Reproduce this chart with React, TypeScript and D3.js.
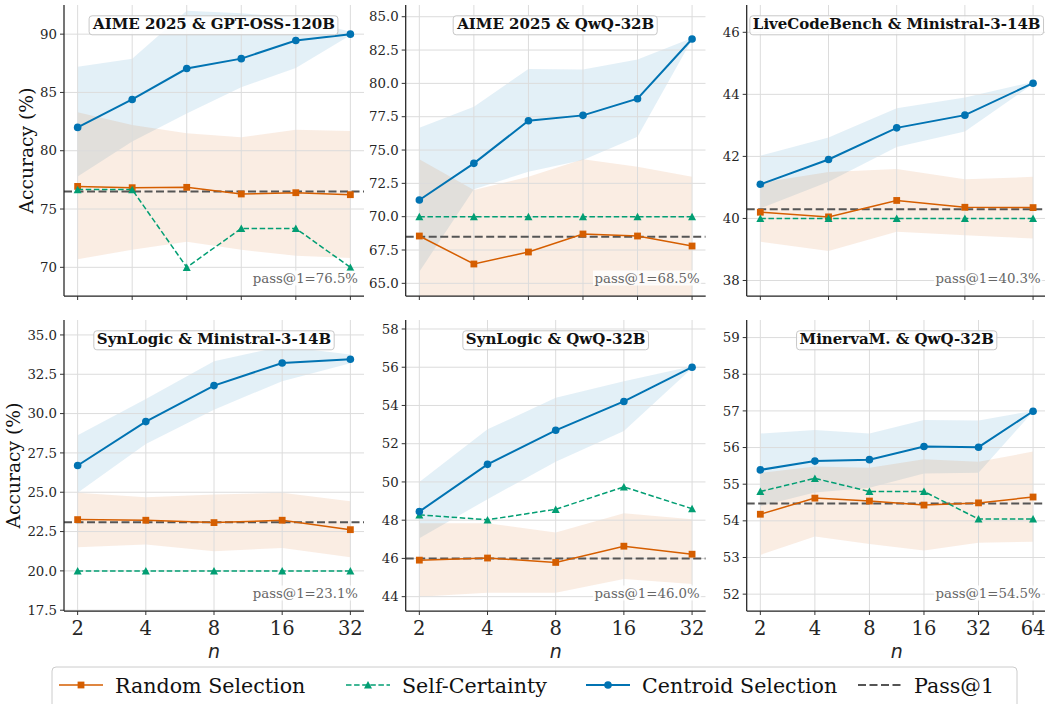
import { useEffect, useRef } from 'react'
import * as d3 from 'd3'

const nSix = ['2', '4', '8', '16', '32', '64']
const nFive = ['2', '4', '8', '16', '32']

// AIME 2025 & GPT-OSS-120B
const aimeGptCentroid = [82.0, 84.4, 87.05, 87.9, 89.45, 90.0]
const aimeGptCentroidHi = [87.2, 87.9, 92.0, 91.8, 91.4, 90.2]
const aimeGptCentroidLo = [77.8, 80.8, 83.2, 85.45, 87.1, 89.9]
const aimeGptRandom = [76.94, 76.83, 76.86, 76.29, 76.4, 76.23]
const aimeGptRandomHi = [83.3, 82.2, 81.5, 81.15, 81.8, 81.7]
const aimeGptRandomLo = [70.7, 71.5, 72.2, 71.5, 71.0, 70.8]
const aimeGptSelf = [76.67, 76.67, 70.0, 73.33, 73.33, 70.0]

// AIME 2025 & QwQ-32B
const aimeQwqCentroid = [71.25, 74.0, 77.2, 77.6, 78.85, 83.33]
const aimeQwqCentroidHi = [76.67, 78.25, 81.08, 81.05, 81.8, 83.4]
const aimeQwqCentroidLo = [65.87, 72.05, 73.37, 74.25, 76.0, 83.3]
const aimeQwqRandom = [68.55, 66.45, 67.35, 68.7, 68.55, 67.8]
const aimeQwqRandomHi = [74.3, 72.0, 73.0, 74.3, 73.75, 73.0]
const aimeQwqRandomLo = [62.8, 61.0, 61.7, 63.1, 63.3, 62.6]
const aimeQwqSelf = [70, 70, 70, 70, 70, 70]

// LiveCodeBench & Ministral-3-14B
const lcbCentroid = [41.1, 41.9, 42.92, 43.33, 44.36]
const lcbCentroidHi = [42.02, 42.61, 43.55, 43.9, 44.4]
const lcbCentroidLo = [40.32, 41.18, 42.3, 42.8, 44.33]
const lcbRandom = [40.2, 40.05, 40.58, 40.36, 40.35]
const lcbRandomHi = [41.15, 41.5, 41.59, 41.26, 41.34]
const lcbRandomLo = [39.25, 38.95, 39.57, 39.46, 39.35]
const lcbSelf = [40, 40, 40, 40, 40]

// SynLogic & Ministral-3-14B
const synMinCentroid = [26.7, 29.49, 31.78, 33.22, 33.45]
const synMinCentroidHi = [28.62, 30.93, 33.33, 34.28, 33.75]
const synMinCentroidLo = [24.96, 28.07, 30.25, 32.06, 33.2]
const synMinRandom = [23.26, 23.22, 23.07, 23.22, 22.62]
const synMinRandomHi = [24.96, 24.68, 24.85, 24.96, 24.43]
const synMinRandomLo = [21.5, 21.67, 21.25, 21.46, 20.87]
const synMinSelf = [20, 20, 20, 20, 20]

// SynLogic & QwQ-32B
const synQwqCentroid = [48.45, 50.92, 52.7, 54.21, 56.0]
const synQwqCentroidHi = [50.0, 52.75, 54.4, 55.27, 56.05]
const synQwqCentroidLo = [47.05, 49.1, 51.05, 52.66, 55.95]
const synQwqRandom = [45.91, 46.02, 45.79, 46.64, 46.22]
const synQwqRandomHi = [47.84, 47.84, 47.36, 48.36, 48.05]
const synQwqRandomLo = [44.0, 44.2, 44.2, 44.92, 44.66]
const synQwqSelf = [48.28, 48.02, 48.57, 49.74, 48.6]

// MinervaM. & QwQ-32B
const minervaCentroid = [55.39, 55.63, 55.67, 56.03, 56.01, 56.99]
const minervaCentroidHi = [56.38, 56.48, 56.38, 56.75, 56.74, 57.0]
const minervaCentroidLo = [54.4, 54.77, 54.9, 55.29, 55.31, 56.98]
const minervaRandom = [54.18, 54.62, 54.54, 54.43, 54.49, 54.65]
const minervaRandomHi = [55.31, 55.48, 55.45, 55.68, 55.61, 55.89]
const minervaRandomLo = [53.07, 53.57, 53.37, 53.19, 53.4, 53.43]
const minervaSelf = [54.8, 55.16, 54.8, 54.8, 54.05, 54.05]

const passValues = [76.5, 68.5, 40.3, 23.1, 46.0, 54.47]
const passLabels = ['76.5%', '68.5%', '40.3%', '23.1%', '46.0%', '54.5%']

const aimeGptTicks = [70, 75, 80, 85, 90]
const aimeQwqTicks = [65, 67.5, 70, 72.5, 75, 77.5, 80, 82.5, 85]
const lcbTicks = [38, 40, 42, 44, 46]
const synMinTicks = [17.5, 20, 22.5, 25, 27.5, 30, 32.5, 35]
const synQwqTicks = [44, 46, 48, 50, 52, 54, 56, 58]
const minervaTicks = [52, 53, 54, 55, 56, 57, 58, 59]

const legendLabels = ['Random Selection', 'Self-Certainty', 'Centroid Selection', 'Pass@1']

const BLUE = '#0173B2'
const ORANGE = '#D55E00'
const GREEN = '#029E73'
const GREY = '#555555'

const panels = [
  { title: 'AIME 2025 & GPT-OSS-120B', n: nSix, c: aimeGptCentroid, cHi: aimeGptCentroidHi, cLo: aimeGptCentroidLo, r: aimeGptRandom, rHi: aimeGptRandomHi, rLo: aimeGptRandomLo, s: aimeGptSelf, ticks: aimeGptTicks, dom: [67.54, 92.5], fmt: d3.format('d') },
  { title: 'AIME 2025 & QwQ-32B', n: nSix, c: aimeQwqCentroid, cHi: aimeQwqCentroidHi, cLo: aimeQwqCentroidLo, r: aimeQwqRandom, rHi: aimeQwqRandomHi, rLo: aimeQwqRandomLo, s: aimeQwqSelf, ticks: aimeQwqTicks, dom: [64.05, 85.88], fmt: d3.format('.1f') },
  { title: 'LiveCodeBench & Ministral-3-14B', n: nFive, c: lcbCentroid, cHi: lcbCentroidHi, cLo: lcbCentroidLo, r: lcbRandom, rHi: lcbRandomHi, rLo: lcbRandomLo, s: lcbSelf, ticks: lcbTicks, dom: [37.5, 46.88], fmt: d3.format('d') },
  { title: 'SynLogic & Ministral-3-14B', n: nFive, c: synMinCentroid, cHi: synMinCentroidHi, cLo: synMinCentroidLo, r: synMinRandom, rHi: synMinRandomHi, rLo: synMinRandomLo, s: synMinSelf, ticks: synMinTicks, dom: [17.45, 35.95], fmt: d3.format('.1f') },
  { title: 'SynLogic & QwQ-32B', n: nFive, c: synQwqCentroid, cHi: synQwqCentroidHi, cLo: synQwqCentroidLo, r: synQwqRandom, rHi: synQwqRandomHi, rLo: synQwqRandomLo, s: synQwqSelf, ticks: synQwqTicks, dom: [43.25, 58.47], fmt: d3.format('d') },
  { title: 'MinervaM. & QwQ-32B', n: nSix, c: minervaCentroid, cHi: minervaCentroidHi, cLo: minervaCentroidLo, r: minervaRandom, rHi: minervaRandomHi, rLo: minervaRandomLo, s: minervaSelf, ticks: minervaTicks, dom: [51.54, 59.48], fmt: d3.format('d') },
]

const SERIF = 'DejaVu Serif, serif'

export default function App() {
  const ref = useRef<SVGSVGElement>(null)

  useEffect(() => {
    if (!ref.current) return
    const svg = d3.select(ref.current)
    svg.selectAll('*').remove()

    const colLeft = [64, 405.7, 746.7]
    const rowTop = [5, 320]
    const ylabelX = [33, 20]
    const pw = 300
    const ph = 291

    const triangle = 'M0,-3.9L4,3.6L-4,3.6Z'

    panels.forEach((p, i) => {
      const col = i % 3
      const row = Math.floor(i / 3)
      const g = svg.append('g').attr('transform', `translate(${colLeft[col]},${rowTop[row]})`)

      const x = d3.scalePoint<string>().domain(p.n).range([0, pw]).padding(0.05 * (p.n.length - 1))
      const y = d3.scaleLinear().domain(p.dom).range([ph, 0])
      const idx = p.n.map((_, k) => k)
      const xi = (k: number) => x(p.n[k]) as number

      const clipId = `clip-${i}`
      g.append('clipPath').attr('id', clipId).append('rect').attr('width', pw).attr('height', ph)
      const plot = g.append('g').attr('clip-path', `url(#${clipId})`)

      const band = (lo: number[], hi: number[]) =>
        d3.area<number>().x(k => xi(k)).y0(k => y(lo[k])).y1(k => y(hi[k]))(idx)

      plot.append('path').attr('d', band(p.cLo, p.cHi)).attr('fill', BLUE).attr('fill-opacity', 0.11)
      plot.append('path').attr('d', band(p.rLo, p.rHi)).attr('fill', ORANGE).attr('fill-opacity', 0.11)

      // grid
      plot.selectAll('line.gy').data(p.ticks).enter().append('line')
        .attr('x1', 0).attr('x2', pw).attr('y1', d => y(d)).attr('y2', d => y(d))
        .attr('stroke', '#dcdcdc').attr('stroke-width', 1)
      plot.selectAll('line.gx').data(p.n).enter().append('line')
        .attr('x1', d => x(d) as number).attr('x2', d => x(d) as number).attr('y1', 0).attr('y2', ph)
        .attr('stroke', '#dcdcdc').attr('stroke-width', 1)

      // pass@1
      plot.append('line')
        .attr('x1', 0).attr('x2', pw).attr('y1', y(passValues[i])).attr('y2', y(passValues[i]))
        .attr('stroke', GREY).attr('stroke-width', 2).attr('stroke-dasharray', '8,3.5')

      const line = (vals: number[]) => d3.line<number>().x(k => xi(k)).y(k => y(vals[k]))(idx)

      plot.append('path').attr('d', line(p.r)).attr('fill', 'none').attr('stroke', ORANGE).attr('stroke-width', 1.5)
      plot.selectAll('rect.mr').data(idx).enter().append('rect')
        .attr('x', k => xi(k) - 3.4).attr('y', k => y(p.r[k]) - 3.4).attr('width', 6.8).attr('height', 6.8)
        .attr('fill', ORANGE)

      plot.append('path').attr('d', line(p.s)).attr('fill', 'none').attr('stroke', GREEN).attr('stroke-width', 1.5)
        .attr('stroke-dasharray', '5.5,2.6')
      plot.selectAll('path.ms').data(idx).enter().append('path')
        .attr('d', triangle).attr('transform', k => `translate(${xi(k)},${y(p.s[k])})`).attr('fill', GREEN)

      plot.append('path').attr('d', line(p.c)).attr('fill', 'none').attr('stroke', BLUE).attr('stroke-width', 2)
      plot.selectAll('circle.mc').data(idx).enter().append('circle')
        .attr('cx', k => xi(k)).attr('cy', k => y(p.c[k])).attr('r', 3.8).attr('fill', BLUE)

      // spines & ticks
      g.append('line').attr('x1', 0).attr('x2', 0).attr('y1', 0).attr('y2', ph).attr('stroke', '#222').attr('stroke-width', 1.25)
      g.append('line').attr('x1', 0).attr('x2', pw).attr('y1', ph).attr('y2', ph).attr('stroke', '#222').attr('stroke-width', 1.25)

      g.selectAll('line.ty').data(p.ticks).enter().append('line')
        .attr('x1', -4).attr('x2', 0).attr('y1', d => y(d)).attr('y2', d => y(d)).attr('stroke', '#333').attr('stroke-width', 1)
      g.selectAll('text.ty').data(p.ticks).enter().append('text')
        .attr('x', -7).attr('y', d => y(d)).attr('dy', '0.35em').attr('text-anchor', 'end')
        .attr('font-family', SERIF).attr('font-size', 13.3).attr('fill', '#262626')
        .text(d => p.fmt(d))

      g.selectAll('line.tx').data(p.n).enter().append('line')
        .attr('x1', d => x(d) as number).attr('x2', d => x(d) as number).attr('y1', ph).attr('y2', ph + 4)
        .attr('stroke', '#333').attr('stroke-width', 1)

      if (row === 1) {
        g.selectAll('text.tx').data(p.n).enter().append('text')
          .attr('x', d => x(d) as number).attr('y', ph + 24).attr('text-anchor', 'middle')
          .attr('font-family', SERIF).attr('font-size', 19.5).attr('fill', '#262626')
          .text(d => d)
        g.append('text').attr('x', pw / 2).attr('y', ph + 46.5).attr('text-anchor', 'middle')
          .attr('font-family', 'DejaVu Sans, sans-serif').attr('font-style', 'italic').attr('font-size', 19)
          .attr('fill', '#262626').text('n')
      }

      if (col === 0) {
        g.append('text')
          .attr('transform', `translate(${ylabelX[row] - colLeft[0]},${ph / 2}) rotate(-90)`)
          .attr('text-anchor', 'middle').attr('font-family', SERIF).attr('font-size', 18.7).attr('fill', '#111')
          .text('Accuracy (%)')
      }

      // title box
      const tg = g.append('g')
      const tt = tg.append('text').attr('x', pw / 2).attr('y', 24.3).attr('text-anchor', 'middle')
        .attr('font-family', SERIF).attr('font-weight', 'bold').attr('font-size', 15).attr('fill', '#111')
        .text(p.title)
      const tb = (tt.node() as SVGTextElement).getBBox()
      tg.insert('rect', 'text')
        .attr('x', tb.x - 3).attr('y', tb.y + 0.5).attr('width', tb.width + 6).attr('height', tb.height + 1)
        .attr('rx', 3).attr('fill', 'white').attr('fill-opacity', 0.85).attr('stroke', '#c8c8c8').attr('stroke-width', 1)

      // pass label
      const pg = g.append('g')
      const pt = pg.append('text').attr('x', pw - 6).attr('y', ph - 13.5).attr('text-anchor', 'end')
        .attr('font-family', SERIF).attr('font-size', 13.3).attr('fill', '#666')
        .text(`pass@1=${passLabels[i]}`)
      const pb = (pt.node() as SVGTextElement).getBBox()
      pg.insert('rect', 'text')
        .attr('x', pb.x - 1.5).attr('y', pb.y).attr('width', pb.width + 3).attr('height', pb.height)
        .attr('fill', 'white').attr('fill-opacity', 0.8)
    })

    // legend
    const lg = svg.append('g')
    lg.append('rect').attr('x', 52).attr('y', 667).attr('width', 965).attr('height', 46).attr('rx', 4)
      .attr('fill', 'white').attr('stroke', '#cccccc').attr('stroke-width', 1)
    const itemX = [59, 346, 586, 858]
    const colors = [ORANGE, GREEN, BLUE, GREY]
    const dashes = [null, '5.5,2.6', null, '8,3.5']
    const widths = [1.5, 1.5, 2, 2]
    legendLabels.forEach((label, k) => {
      const ig = lg.append('g').attr('transform', `translate(${itemX[k]},685)`)
      ig.append('line').attr('x1', 0).attr('x2', 44).attr('y1', 0).attr('y2', 0)
        .attr('stroke', colors[k]).attr('stroke-width', widths[k]).attr('stroke-dasharray', dashes[k])
      if (k === 0) ig.append('rect').attr('x', 22 - 3.4).attr('y', -3.4).attr('width', 6.8).attr('height', 6.8).attr('fill', ORANGE)
      if (k === 1) ig.append('path').attr('d', triangle).attr('transform', 'translate(22,0)').attr('fill', GREEN)
      if (k === 2) ig.append('circle').attr('cx', 22).attr('cy', 0).attr('r', 3.8).attr('fill', BLUE)
      ig.append('text').attr('x', 56).attr('y', 8).attr('font-family', SERIF).attr('font-size', 20.6).attr('fill', '#111')
        .text(label)
    })
  }, [])

  return (
    <svg ref={ref} width={1045} height={704}
      style={{ position: 'absolute', left: 0, top: 0, background: 'white' }} />
  )
}
